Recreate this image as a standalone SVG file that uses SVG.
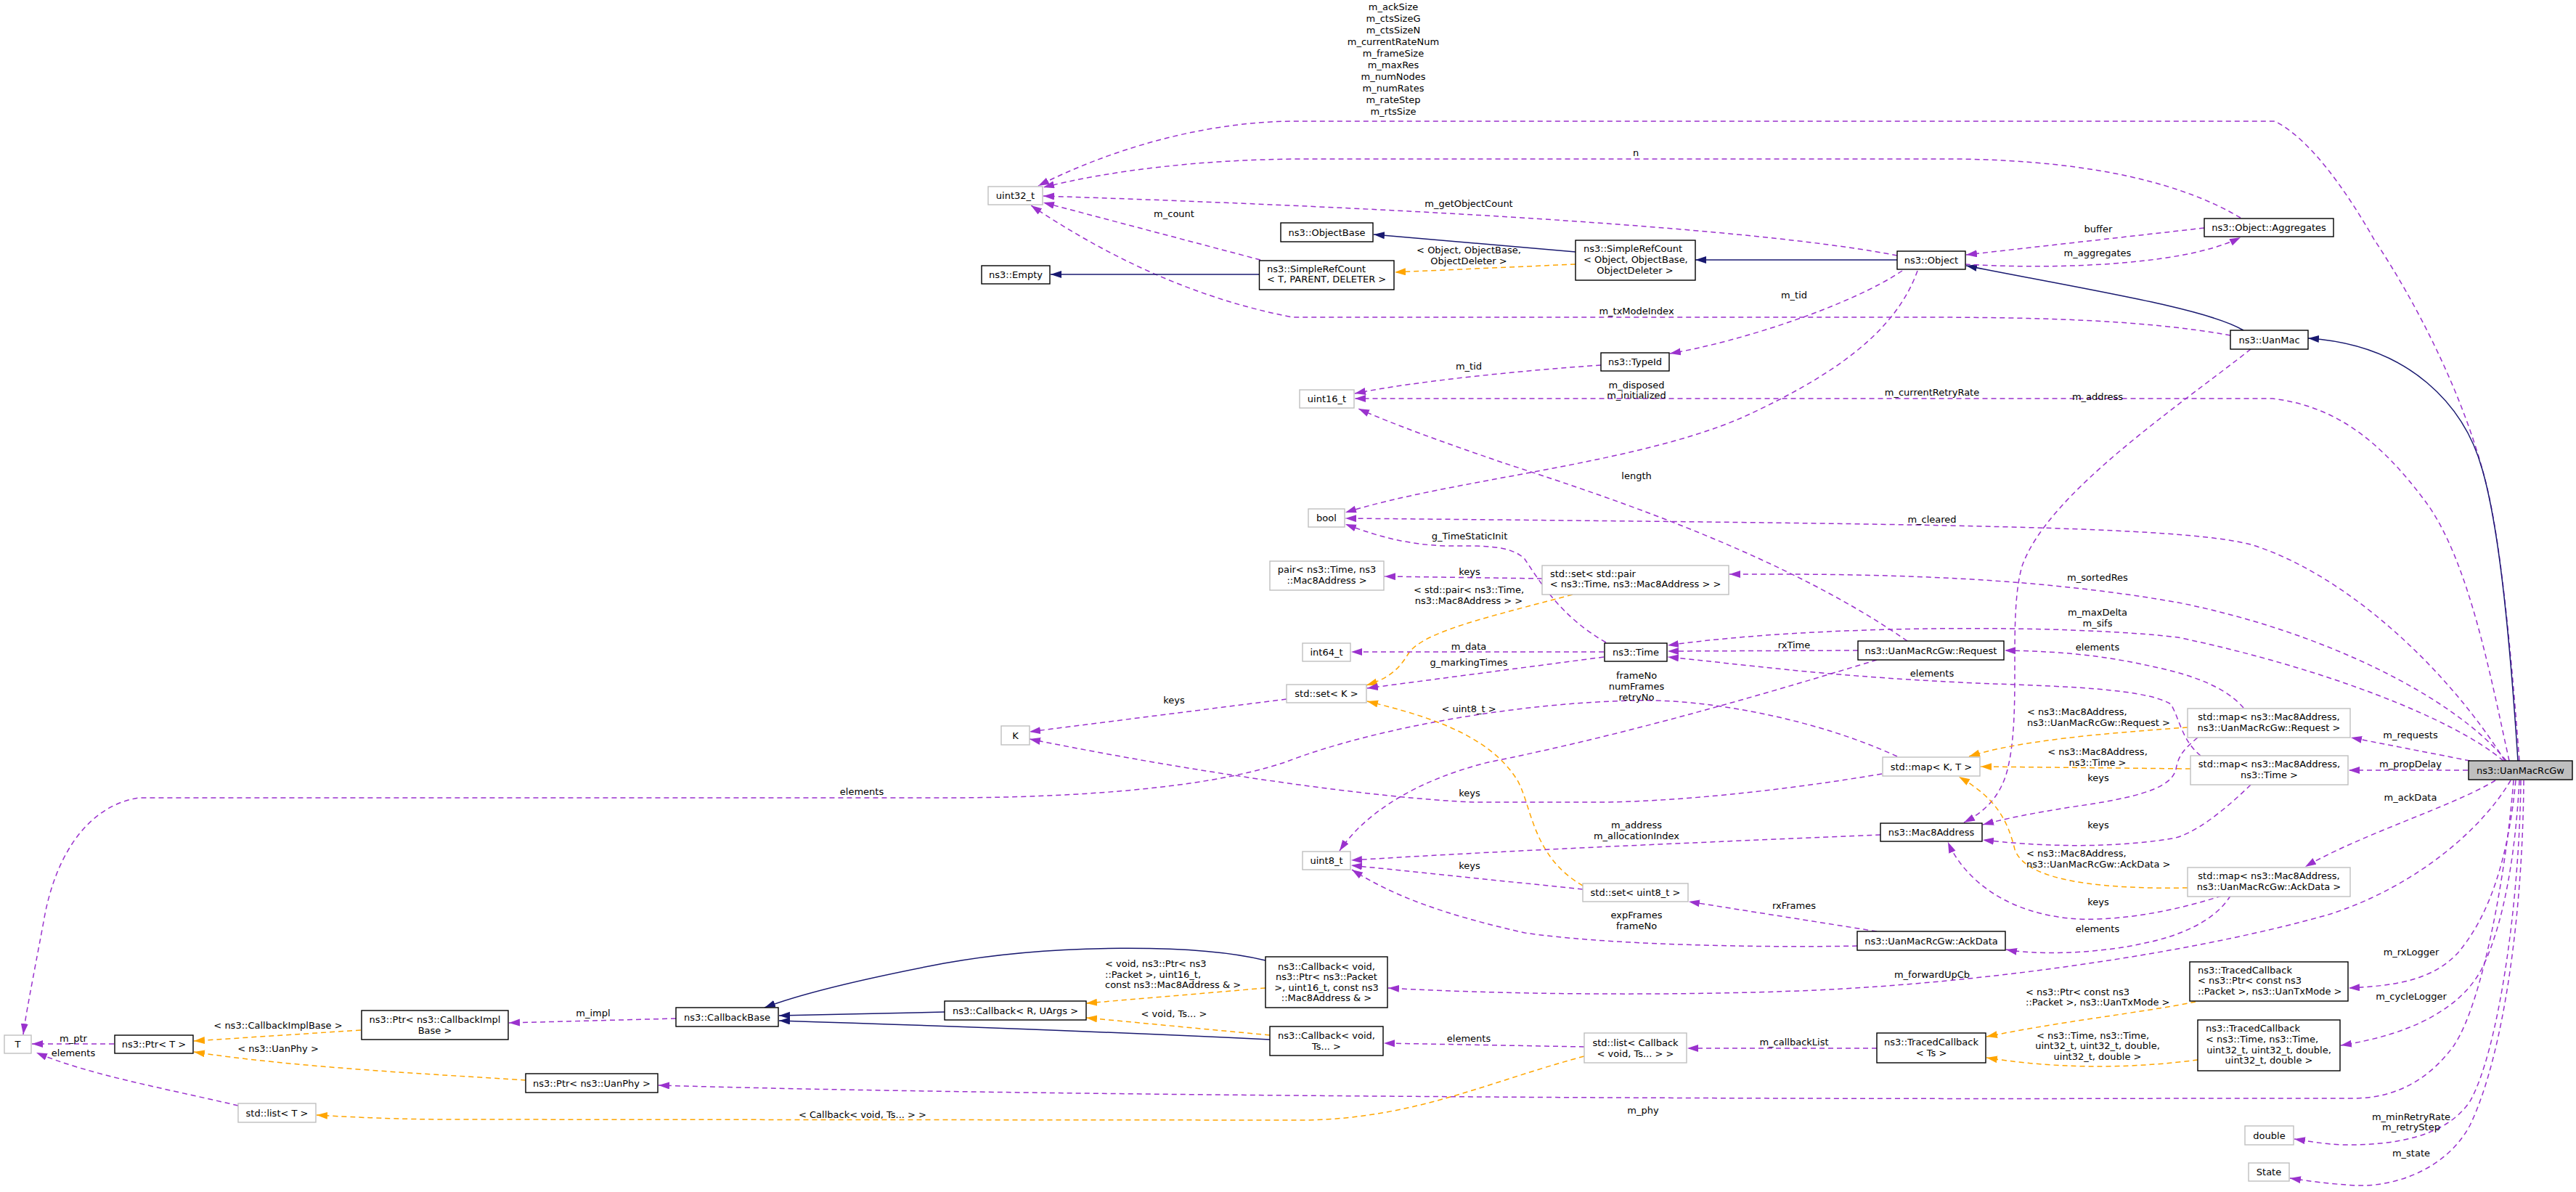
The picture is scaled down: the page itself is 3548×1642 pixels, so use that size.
<svg xmlns="http://www.w3.org/2000/svg" width="3548" height="1642" viewBox="0 0 3548 1642">
<style>
text{font-family:"DejaVu Sans","Liberation Sans",sans-serif;font-size:13px;fill:#000}
.c{text-anchor:middle}
.n rect{fill:#fff;stroke:#000;stroke-width:1.4}
.g rect{fill:#fff;stroke:#bfbfbf;stroke-width:1.4}
.e path{fill:none;stroke-width:1.5}
.e .p{stroke:#9a32cd;stroke-dasharray:7,5;marker-end:url(#mp)}
.e .o{stroke:#ffa500;stroke-dasharray:7,5;marker-end:url(#mo)}
.e .v{stroke:#191970;marker-end:url(#mv)}
</style>
<defs>
<marker id="mp" markerUnits="userSpaceOnUse" markerWidth="16" markerHeight="12" refX="15" refY="5" orient="auto"><path d="M0,0 L15,5 L0,10 z" fill="#9a32cd"/></marker>
<marker id="mo" markerUnits="userSpaceOnUse" markerWidth="16" markerHeight="12" refX="15" refY="5" orient="auto"><path d="M0,0 L15,5 L0,10 z" fill="#ffa500"/></marker>
<marker id="mv" markerUnits="userSpaceOnUse" markerWidth="16" markerHeight="12" refX="15" refY="5" orient="auto"><path d="M0,0 L15,5 L0,10 z" fill="#191970"/></marker>
</defs>
<rect width="3548" height="1642" fill="#fff"/>
<g id="edges" class="e">
<path class="p" d="M3470,1048 C3455,850 3440,720 3420,650 C3390,540 3330,420 3270,330 C3230,260 3180,190 3133,167 L1780,167 C1650,168 1520,210 1430,256"/>
<path class="p" d="M3086,300 C3010,255 2890,222 2700,219 L1790,219 C1650,220 1530,235 1437,258"/>
<path class="p" d="M2613,352 C2450,320 2050,290 1437,270"/>
<path class="p" d="M1736,358 L1437,279"/>
<path class="p" d="M3072,462 C2950,440 2800,437 2640,437 L1780,437 C1640,410 1520,350 1420,283"/>
<path class="v" d="M1734,378 L1447,378"/>
<path class="v" d="M2170,347 L1892,323"/>
<path class="o" d="M2170,364 L1921,375"/>
<path class="v" d="M2613,358 L2335,358"/>
<path class="v" d="M3090,455 C3040,425 2880,400 2708,366"/>
<path class="v" d="M3468,1048 C3455,850 3440,720 3419,647 C3395,560 3320,475 3179,466"/>
<path class="p" d="M3036,314 L2708,351"/>
<path class="p" d="M2707,364 C2800,370 3000,370 3086,327"/>
<path class="p" d="M2620,373 C2550,420 2400,470 2300,487"/>
<path class="p" d="M2205,503 C2100,510 1950,525 1866,542"/>
<path class="p" d="M2641,373 C2610,460 2520,520 2400,575 C2250,640 2000,660 1853,706"/>
<path class="p" d="M3456,1048 C3430,930 3400,770 3340,690 C3280,610 3220,560 3130,549 L1866,549"/>
<path class="p" d="M3100,481 C3000,560 2820,680 2785,780 C2765,850 2785,980 2765,1060 C2755,1100 2730,1120 2705,1133"/>
<path class="p" d="M3450,1048 C3370,920 3230,790 3100,750 C3000,725 2700,722 1853,714"/>
<path class="p" d="M3452,1048 C3380,960 3200,870 3000,830 C2800,795 2600,790 2382,791"/>
<path class="p" d="M3448,1048 C3380,990 3200,920 3000,878 C2850,860 2500,860 2297,889"/>
<path class="p" d="M3402,1048 L3238,1016"/>
<path class="p" d="M3399,1061 L3235,1061"/>
<path class="p" d="M3437,1075 C3380,1110 3250,1150 3175,1194"/>
<path class="p" d="M3458,1075 C3420,1140 3330,1220 3210,1259 C3050,1305 2800,1345 2571,1360 C2400,1372 2100,1372 1912,1361"/>
<path class="p" d="M3465,1075 C3455,1180 3430,1260 3385,1313 C3350,1350 3300,1358 3235,1361"/>
<path class="p" d="M3470,1075 C3465,1170 3450,1270 3419,1333 C3390,1390 3320,1425 3224,1440"/>
<path class="p" d="M3462,1075 C3452,1200 3420,1380 3380,1440 C3340,1495 3290,1513 3240,1513 L3000,1513 C2500,1515 1400,1510 907,1495"/>
<path class="p" d="M3472,1075 C3470,1250 3440,1450 3402,1517 C3370,1565 3300,1578 3227,1577 C3200,1576 3180,1572 3160,1569"/>
<path class="p" d="M3476,1075 C3475,1250 3450,1450 3402,1550 C3370,1610 3300,1635 3245,1633 C3210,1631 3180,1627 3154,1623"/>
<path class="p" d="M2212,885 C2150,850 2120,800 2100,770 C2080,750 2040,752 1990,752 C1940,750 1900,740 1853,722"/>
<path class="p" d="M2124,797 L1907,794"/>
<path class="o" d="M2166,819 C2050,850 1960,870 1940,900 C1925,925 1910,935 1882,944"/>
<path class="p" d="M2209,898 L1861,898"/>
<path class="p" d="M2209,905 L1883,948"/>
<path class="p" d="M1772,963 L1418,1008"/>
<path class="p" d="M2592,1066 C2450,1090 2300,1105 2200,1105 L2030,1105 C1900,1100 1650,1065 1418,1018"/>
<path class="p" d="M2613,1042 C2500,990 2350,962 2250,965 C2100,968 1900,1000 1770,1050 C1650,1090 1450,1099 1300,1099 L191,1099 C120,1110 75,1180 60,1270 C45,1350 35,1400 32,1425"/>
<path class="p" d="M2585,909 C2450,950 2250,1010 2050,1050 C1950,1075 1880,1120 1845,1172"/>
<path class="o" d="M2180,1220 C2110,1180 2110,1110 2090,1075 C2050,1010 1960,985 1883,966"/>
<path class="p" d="M2627,883 C2450,760 2200,680 2069,637 C1990,610 1920,585 1871,563"/>
<path class="p" d="M3027,1016 C3010,1030 3000,1040 2997,1060 C2990,1085 2950,1098 2851,1112 C2800,1120 2760,1128 2731,1136"/>
<path class="p" d="M3031,1041 C3005,1020 3002,990 2990,970 C2950,945 2800,945 2700,940 C2500,930 2400,915 2297,905"/>
<path class="p" d="M3100,1081 C3060,1120 3020,1150 2992,1155 C2900,1170 2800,1165 2731,1157"/>
<path class="p" d="M3060,1234 C2980,1260 2900,1270 2850,1265 C2750,1255 2700,1200 2683,1160"/>
<path class="p" d="M3072,1234 C3050,1270 3000,1290 2950,1300 C2880,1315 2800,1315 2763,1308"/>
<path class="p" d="M3090,975 C3060,940 3000,925 2950,915 C2880,900 2820,897 2761,896"/>
<path class="p" d="M2590,1150 C2400,1158 2100,1170 1861,1185"/>
<path class="p" d="M2180,1225 L1861,1192"/>
<path class="p" d="M2585,1283 L2326,1242"/>
<path class="p" d="M2558,1303 C2400,1306 2200,1300 2100,1285 C1990,1260 1920,1235 1862,1198"/>
<path class="p" d="M2559,896 L2297,897"/>
<path class="o" d="M3013,1002 C2900,1010 2780,1020 2712,1042"/>
<path class="o" d="M3017,1059 L2728,1056"/>
<path class="o" d="M3013,1223 C2900,1225 2790,1215 2775,1170 C2765,1130 2750,1100 2698,1070"/>
<path class="p" d="M931,1403 L701,1409"/>
<path class="o" d="M497,1419 L267,1434"/>
<path class="o" d="M724,1488 C600,1480 400,1470 267,1449"/>
<path class="p" d="M157,1438 L44,1438"/>
<path class="p" d="M328,1523 C230,1500 120,1480 50,1450"/>
<path class="o" d="M2182,1455 C2050,1490 1950,1540 1800,1543 L600,1542 C520,1541 470,1538 436,1536"/>
<path class="v" d="M1749,1432 C1500,1420 1200,1410 1073,1406"/>
<path class="v" d="M1301,1394 L1073,1399"/>
<path class="v" d="M1743,1323 C1650,1300 1450,1300 1300,1327 C1180,1350 1100,1370 1053,1388"/>
<path class="o" d="M1743,1361 L1496,1382"/>
<path class="o" d="M1749,1426 L1496,1402"/>
<path class="p" d="M2182,1442 L1906,1437"/>
<path class="p" d="M2585,1444 L2324,1444"/>
<path class="o" d="M3024,1380 C2950,1395 2850,1405 2736,1428"/>
<path class="o" d="M3027,1460 C2950,1470 2850,1475 2736,1457"/>
</g>
<g id="labels">
<text class="c" x="1919" y="14">m_ackSize</text>
<text class="c" x="1919" y="30">m_ctsSizeG</text>
<text class="c" x="1919" y="46">m_ctsSizeN</text>
<text class="c" x="1919" y="62">m_currentRateNum</text>
<text class="c" x="1919" y="78">m_frameSize</text>
<text class="c" x="1919" y="94">m_maxRes</text>
<text class="c" x="1919" y="110">m_numNodes</text>
<text class="c" x="1919" y="126">m_numRates</text>
<text class="c" x="1919" y="142">m_rateStep</text>
<text class="c" x="1919" y="158">m_rtsSize</text>
<text class="c" x="2253" y="215">n</text>
<text class="c" x="2023" y="285">m_getObjectCount</text>
<text class="c" x="1617" y="299">m_count</text>
<text class="c" x="2023" y="349">&lt; Object, ObjectBase,</text>
<text class="c" x="2023" y="364">ObjectDeleter &gt;</text>
<text class="c" x="2890" y="320">buffer</text>
<text class="c" x="2889" y="353">m_aggregates</text>
<text class="c" x="2471" y="411">m_tid</text>
<text class="c" x="2254" y="433">m_txModeIndex</text>
<text class="c" x="2023" y="509">m_tid</text>
<text class="c" x="2254" y="535">m_disposed</text>
<text class="c" x="2254" y="549">m_initialized</text>
<text class="c" x="2661" y="545">m_currentRetryRate</text>
<text class="c" x="2889" y="551">m_address</text>
<text class="c" x="2254" y="660">length</text>
<text class="c" x="2661" y="720">m_cleared</text>
<text class="c" x="2024" y="743">g_TimeStaticInit</text>
<text class="c" x="2024" y="792">keys</text>
<text class="c" x="2889" y="800">m_sortedRes</text>
<text class="c" x="2023" y="817">&lt; std::pair&lt; ns3::Time,</text>
<text class="c" x="2023" y="832">ns3::Mac8Address &gt; &gt;</text>
<text class="c" x="2889" y="848">m_maxDelta</text>
<text class="c" x="2889" y="863">m_sifs</text>
<text class="c" x="2471" y="893">rxTime</text>
<text class="c" x="2023" y="895">m_data</text>
<text class="c" x="2889" y="896">elements</text>
<text class="c" x="2023" y="917">g_markingTimes</text>
<text class="c" x="2661" y="932">elements</text>
<text class="c" x="2254" y="935">frameNo</text>
<text class="c" x="2254" y="950">numFrames</text>
<text class="c" x="2254" y="965">retryNo</text>
<text class="c" x="1617" y="969">keys</text>
<text class="c" x="2023" y="981">&lt; uint8_t &gt;</text>
<text x="2792" y="985">&lt; ns3::Mac8Address,</text>
<text x="2792" y="1000">ns3::UanMacRcGw::Request &gt;</text>
<text class="c" x="2889" y="1040">&lt; ns3::Mac8Address,</text>
<text class="c" x="2889" y="1055">ns3::Time &gt;</text>
<text class="c" x="2890" y="1076">keys</text>
<text class="c" x="2024" y="1097">keys</text>
<text class="c" x="1187" y="1095">elements</text>
<text class="c" x="2254" y="1141">m_address</text>
<text class="c" x="2254" y="1156">m_allocationIndex</text>
<text class="c" x="2890" y="1141">keys</text>
<text x="2791" y="1180">&lt; ns3::Mac8Address,</text>
<text x="2791" y="1195">ns3::UanMacRcGw::AckData &gt;</text>
<text class="c" x="2024" y="1197">keys</text>
<text class="c" x="2890" y="1247">keys</text>
<text class="c" x="2471" y="1252">rxFrames</text>
<text class="c" x="2254" y="1265">expFrames</text>
<text class="c" x="2254" y="1280">frameNo</text>
<text class="c" x="2889" y="1284">elements</text>
<text class="c" x="2661" y="1347">m_forwardUpCb</text>
<text x="2790" y="1371">&lt; ns3::Ptr&lt; const ns3</text>
<text x="2790" y="1385">::Packet &gt;, ns3::UanTxMode &gt;</text>
<text x="1522" y="1332">&lt; void, ns3::Ptr&lt; ns3</text>
<text x="1522" y="1347">::Packet &gt;, uint16_t,</text>
<text x="1522" y="1361">const ns3::Mac8Address &amp; &gt;</text>
<text class="c" x="1617" y="1401">&lt; void, Ts... &gt;</text>
<text class="c" x="2023" y="1435">elements</text>
<text class="c" x="2471" y="1440">m_callbackList</text>
<text x="2805" y="1431">&lt; ns3::Time, ns3::Time,</text>
<text class="c" x="2889" y="1445">uint32_t, uint32_t, double,</text>
<text class="c" x="2889" y="1460">uint32_t, double &gt;</text>
<text class="c" x="3320" y="1017">m_requests</text>
<text class="c" x="3320" y="1057">m_propDelay</text>
<text class="c" x="3320" y="1103">m_ackData</text>
<text class="c" x="3321" y="1316">m_rxLogger</text>
<text class="c" x="3321" y="1377">m_cycleLogger</text>
<text class="c" x="3321" y="1543">m_minRetryRate</text>
<text class="c" x="3321" y="1557">m_retryStep</text>
<text class="c" x="3321" y="1593">m_state</text>
<text class="c" x="2263" y="1534">m_phy</text>
<text class="c" x="817" y="1400">m_impl</text>
<text class="c" x="383" y="1417">&lt; ns3::CallbackImplBase &gt;</text>
<text class="c" x="383" y="1449">&lt; ns3::UanPhy &gt;</text>
<text class="c" x="101" y="1435">m_ptr</text>
<text class="c" x="101" y="1455">elements</text>
<text class="c" x="1188" y="1540">&lt; Callback&lt; void, Ts... &gt; &gt;</text>
</g>
<g id="uint32_t" class="g"><rect x="1361" y="257" width="75" height="25"/><text class="c" x="1398.5" y="274">uint32_t</text></g>
<g id="ObjectBase" class="n"><rect x="1764" y="307" width="127" height="26"/><text class="c" x="1827.5" y="325">ns3::ObjectBase</text></g>
<g id="Empty" class="n"><rect x="1352" y="366" width="94" height="25"/><text class="c" x="1399" y="383">ns3::Empty</text></g>
<g id="SimpleRefCountT" class="n"><rect x="1734.5" y="359" width="185.5" height="40"/><text x="1745" y="375">ns3::SimpleRefCount</text><text x="1745" y="389">&lt; T, PARENT, DELETER &gt;</text></g>
<g id="SimpleRefCountObject" class="n"><rect x="2170" y="331" width="165" height="55"/><text x="2181" y="347">ns3::SimpleRefCount</text><text x="2181" y="362">&lt; Object, ObjectBase,</text><text class="c" x="2252" y="377">ObjectDeleter &gt;</text></g>
<g id="Object" class="n"><rect x="2613" y="346" width="94" height="25"/><text class="c" x="2660" y="363">ns3::Object</text></g>
<g id="Aggregates" class="n"><rect x="3036" y="301" width="178" height="25"/><text class="c" x="3125" y="318">ns3::Object::Aggregates</text></g>
<g id="UanMac" class="n"><rect x="3072" y="455" width="107" height="26"/><text class="c" x="3125.5" y="472.5">ns3::UanMac</text></g>
<g id="TypeId" class="n"><rect x="2205" y="486" width="94" height="25"/><text class="c" x="2252" y="503">ns3::TypeId</text></g>
<g id="uint16_t" class="g"><rect x="1790" y="537" width="75" height="25"/><text class="c" x="1827.5" y="554">uint16_t</text></g>
<g id="bool" class="g"><rect x="1802" y="701" width="50" height="25"/><text class="c" x="1827" y="718">bool</text></g>
<g id="pair" class="g"><rect x="1749" y="773" width="157" height="40"/><text class="c" x="1827.5" y="789">pair&lt; ns3::Time, ns3</text><text class="c" x="1827.5" y="804">::Mac8Address &gt;</text></g>
<g id="setPair" class="g"><rect x="2124" y="779" width="257" height="40"/><text x="2135" y="795">std::set&lt; std::pair</text><text class="c" x="2252.5" y="809">&lt; ns3::Time, ns3::Mac8Address &gt; &gt;</text></g>
<g id="int64_t" class="g"><rect x="1794" y="886" width="66" height="25"/><text class="c" x="1827" y="903">int64_t</text></g>
<g id="Time" class="n"><rect x="2210" y="886" width="86" height="25"/><text class="c" x="2253" y="903">ns3::Time</text></g>
<g id="Request" class="n"><rect x="2559" y="883" width="201" height="26"/><text class="c" x="2659.5" y="900.5">ns3::UanMacRcGw::Request</text></g>
<g id="setK" class="g"><rect x="1772" y="943" width="110" height="25"/><text class="c" x="1827" y="960">std::set&lt; K &gt;</text></g>
<g id="K" class="g"><rect x="1379" y="1000" width="39" height="26"/><text class="c" x="1398.5" y="1017.5">K</text></g>
<g id="mapRequest" class="g"><rect x="3013" y="976" width="224" height="40"/><text class="c" x="3125" y="991.5">std::map&lt; ns3::Mac8Address,</text><text class="c" x="3125" y="1006.5">ns3::UanMacRcGw::Request &gt;</text></g>
<g id="mapKT" class="g"><rect x="2593" y="1043" width="134" height="26"/><text class="c" x="2660" y="1060.5">std::map&lt; K, T &gt;</text></g>
<g id="mapTime" class="g"><rect x="3017" y="1041" width="217" height="40"/><text class="c" x="3125.5" y="1056.5">std::map&lt; ns3::Mac8Address,</text><text class="c" x="3125.5" y="1071.5">ns3::Time &gt;</text></g>
<g id="UanMacRcGw" class="n"><rect x="3400" y="1048" width="143" height="26" style="fill:#bfbfbf"/><text class="c" x="3471.5" y="1065.5">ns3::UanMacRcGw</text></g>
<g id="Mac8Address" class="n"><rect x="2590" y="1134" width="140" height="25"/><text class="c" x="2660" y="1151">ns3::Mac8Address</text></g>
<g id="uint8_t" class="g"><rect x="1794" y="1173" width="66" height="25"/><text class="c" x="1827" y="1190">uint8_t</text></g>
<g id="setUint8" class="g"><rect x="2180" y="1217" width="145" height="25"/><text class="c" x="2252.5" y="1234">std::set&lt; uint8_t &gt;</text></g>
<g id="mapAckData" class="g"><rect x="3013" y="1195" width="224" height="40"/><text class="c" x="3125" y="1210.5">std::map&lt; ns3::Mac8Address,</text><text class="c" x="3125" y="1225.5">ns3::UanMacRcGw::AckData &gt;</text></g>
<g id="AckData" class="n"><rect x="2558" y="1283" width="204" height="26"/><text class="c" x="2660" y="1300.5">ns3::UanMacRcGw::AckData</text></g>
<g id="CallbackPacket" class="n"><rect x="1743" y="1318" width="168" height="70"/><text class="c" x="1827" y="1335.5">ns3::Callback&lt; void,</text><text class="c" x="1827" y="1350">ns3::Ptr&lt; ns3::Packet</text><text class="c" x="1827" y="1364.5">&gt;, uint16_t, const ns3</text><text class="c" x="1827" y="1379">::Mac8Address &amp; &gt;</text></g>
<g id="CallbackRUArgs" class="n"><rect x="1301" y="1379" width="195" height="26"/><text class="c" x="1398.5" y="1396.5">ns3::Callback&lt; R, UArgs &gt;</text></g>
<g id="CallbackVoidTs" class="n"><rect x="1749" y="1414" width="156" height="40"/><text class="c" x="1827" y="1431">ns3::Callback&lt; void,</text><text class="c" x="1827" y="1445.5">Ts... &gt;</text></g>
<g id="listCallback" class="g"><rect x="2182" y="1423" width="141" height="41"/><text class="c" x="2252.5" y="1440.5">std::list&lt; Callback</text><text class="c" x="2252.5" y="1455.5">&lt; void, Ts... &gt; &gt;</text></g>
<g id="TracedCallbackTs" class="n"><rect x="2585" y="1423" width="150" height="41"/><text class="c" x="2660" y="1440">ns3::TracedCallback</text><text class="c" x="2660" y="1455">&lt; Ts &gt;</text></g>
<g id="TracedCallbackPtr" class="n"><rect x="3016" y="1325" width="218" height="54"/><text x="3027" y="1341">ns3::TracedCallback</text><text x="3027" y="1355">&lt; ns3::Ptr&lt; const ns3</text><text x="3027" y="1370">::Packet &gt;, ns3::UanTxMode &gt;</text></g>
<g id="TracedCallbackTime" class="n"><rect x="3027" y="1405" width="196" height="70"/><text x="3038" y="1421">ns3::TracedCallback</text><text x="3038" y="1436">&lt; ns3::Time, ns3::Time,</text><text class="c" x="3125" y="1451">uint32_t, uint32_t, double,</text><text class="c" x="3125" y="1465">uint32_t, double &gt;</text></g>
<g id="T" class="g"><rect x="6" y="1426" width="37" height="25"/><text class="c" x="24.5" y="1443">T</text></g>
<g id="PtrT" class="n"><rect x="158" y="1426" width="108" height="25"/><text class="c" x="212" y="1443">ns3::Ptr&lt; T &gt;</text></g>
<g id="PtrCallbackImplBase" class="n"><rect x="498" y="1392" width="202" height="40"/><text class="c" x="599" y="1408.5">ns3::Ptr&lt; ns3::CallbackImpl</text><text class="c" x="599" y="1423.5">Base &gt;</text></g>
<g id="CallbackBase" class="n"><rect x="931" y="1388" width="141" height="26"/><text class="c" x="1001.5" y="1405.5">ns3::CallbackBase</text></g>
<g id="PtrUanPhy" class="n"><rect x="724" y="1479" width="182" height="26"/><text class="c" x="815" y="1496.5">ns3::Ptr&lt; ns3::UanPhy &gt;</text></g>
<g id="listT" class="g"><rect x="328" y="1520" width="107" height="26"/><text class="c" x="381.5" y="1537.5">std::list&lt; T &gt;</text></g>
<g id="double" class="g"><rect x="3092" y="1551" width="67" height="26"/><text class="c" x="3125.5" y="1568.5">double</text></g>
<g id="State" class="g"><rect x="3097" y="1602" width="56" height="25"/><text class="c" x="3125" y="1619">State</text></g>
</svg>
